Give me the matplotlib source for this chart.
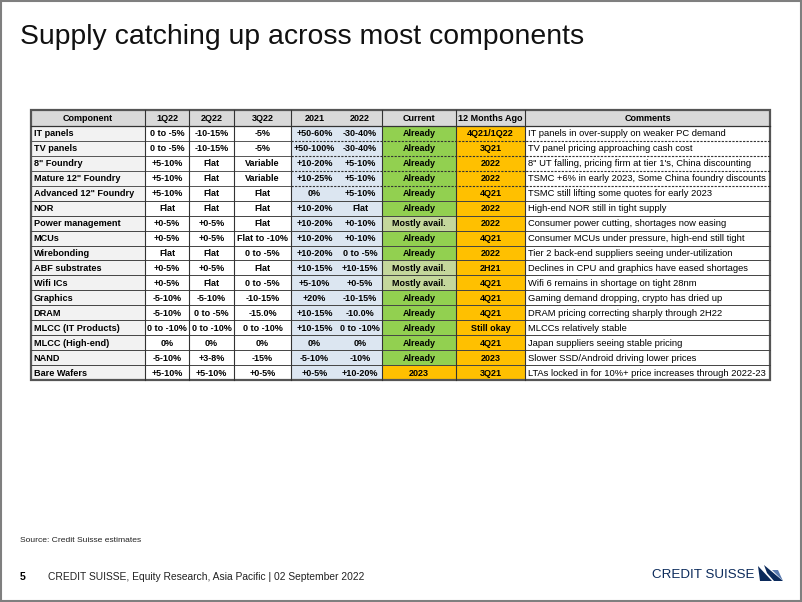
import matplotlib
matplotlib.use("Agg")
import matplotlib.pyplot as plt
from matplotlib.patches import Rectangle, Polygon

# ---------------- data ----------------
headers = ["Component", "1Q22", "2Q22", "3Q22", "2021", "2022", "Current", "12 Months Ago", "Comments"]
components = ["IT panels", "TV panels", "8\" Foundry", "Mature 12\" Foundry", "Advanced 12\" Foundry",
              "NOR", "Power management", "MCUs", "Wirebonding", "ABF substrates", "Wifi ICs",
              "Graphics", "DRAM", "MLCC (IT Products)", "MLCC (High-end)", "NAND", "Bare Wafers"]
q1_22 = ["0 to -5%", "0 to -5%", "+5-10%", "+5-10%", "+5-10%", "Flat", "+0-5%", "+0-5%", "Flat",
         "+0-5%", "+0-5%", "-5-10%", "-5-10%", "0 to -10%", "0%", "-5-10%", "+5-10%"]
q2_22 = ["-10-15%", "-10-15%", "Flat", "Flat", "Flat", "Flat", "+0-5%", "+0-5%", "Flat",
         "+0-5%", "Flat", "-5-10%", "0 to -5%", "0 to -10%", "0%", "+3-8%", "+5-10%"]
q3_22 = ["-5%", "-5%", "Variable", "Variable", "Flat", "Flat", "Flat", "Flat to -10%", "0 to -5%",
         "Flat", "0 to -5%", "-10-15%", "-15.0%", "0 to -10%", "0%", "-15%", "+0-5%"]
y2021 = ["+50-60%", "+50-100%", "+10-20%", "+10-25%", "0%", "+10-20%", "+10-20%", "+10-20%", "+10-20%",
         "+10-15%", "+5-10%", "+20%", "+10-15%", "+10-15%", "0%", "-5-10%", "+0-5%"]
y2022 = ["-30-40%", "-30-40%", "+5-10%", "+5-10%", "+5-10%", "Flat", "+0-10%", "+0-10%", "0 to -5%",
         "+10-15%", "+0-5%", "-10-15%", "-10.0%", "0 to -10%", "0%", "-10%", "+10-20%"]
current = ["Already", "Already", "Already", "Already", "Already", "Already", "Mostly avail.", "Already",
           "Already", "Mostly avail.", "Mostly avail.", "Already", "Already", "Already", "Already",
           "Already", "2023"]
months_ago = ["4Q21/1Q22", "3Q21", "2022", "2022", "4Q21", "2022", "2022", "4Q21", "2022", "2H21",
              "4Q21", "4Q21", "4Q21", "Still okay", "4Q21", "2023", "3Q21"]
comments = ["IT panels in over-supply on weaker PC demand",
            "TV panel pricing approaching cash cost",
            "8\" UT falling, pricing firm at tier 1's, China discounting",
            "TSMC +6% in early 2023, Some China foundry discounts",
            "TSMC still lifting some quotes for early 2023",
            "High-end NOR still in tight supply",
            "Consumer power cutting, shortages now easing",
            "Consumer MCUs under pressure, high-end still tight",
            "Tier 2 back-end suppliers seeing under-utilization",
            "Declines in CPU and graphics have eased shortages",
            "Wifi 6 remains in shortage on tight 28nm",
            "Gaming demand dropping, crypto has dried up",
            "DRAM pricing correcting sharply through 2H22",
            "MLCCs relatively stable",
            "Japan suppliers seeing stable pricing",
            "Slower SSD/Android driving lower prices",
            "LTAs locked in for 10%+ price increases through 2022-23"]

title = "Supply catching up across most components"
source = "Source: Credit Suisse estimates"
footer = "CREDIT SUISSE, Equity Research, Asia Pacific | 02 September 2022"

# ---------------- layout ----------------
W, H = 802, 602
col_edges = [31, 145, 189, 234, 291, 338, 382, 456, 525, 770]
top, head_h, row_h = 110, 16, 14.94
dashed_after = 4  # first separators drawn dashed

GREEN, LIGHTGREEN, ORANGE = "#92d050", "#c4d79b", "#ffc000"
BLUE, HEAD, COMPBG = "#dce6f1", "#d9d9d9", "#f2f2f2"

fig = plt.figure(figsize=(W / 100, H / 100), dpi=100)
ax = fig.add_axes([0, 0, 1, 1])
ax.set_xlim(0, W)
ax.set_ylim(H, 0)
ax.axis("off")

FONT = "Liberation Sans"
fs_b = 6.5
fs_comp = 6.6
fs_c = 6.75

columns = [components, q1_22, q2_22, q3_22, y2021, y2022, current, months_ago, comments]
nrows = len(components)


def cell_color(c, r):
    if c == 0:
        return COMPBG
    if c in (4, 5):
        return BLUE
    if c == 6:
        v = current[r]
        if v == "Already":
            return GREEN
        if v.startswith("Mostly"):
            return LIGHTGREEN
        return ORANGE
    if c == 7:
        return ORANGE
    return "white"


# header
for c, h in enumerate(headers):
    x0, x1 = col_edges[c], col_edges[c + 1]
    ax.add_patch(Rectangle((x0, top), x1 - x0, head_h, facecolor=HEAD, edgecolor="none"))
    ax.text((x0 + x1) / 2, top + head_h / 2 + 0.5, h, ha="center", va="center",
            fontsize=fs_b, fontweight="bold", family=FONT, color="black")

# body
for r in range(nrows):
    y0 = top + head_h + r * row_h
    for c, col in enumerate(columns):
        x0, x1 = col_edges[c], col_edges[c + 1]
        ax.add_patch(Rectangle((x0, y0), x1 - x0, row_h, facecolor=cell_color(c, r), edgecolor="none"))
        if c == 0:
            ax.text(x0 + 2.5, y0 + row_h / 2 + 0.5, col[r], ha="left", va="center",
                    fontsize=fs_comp, fontweight="bold", family=FONT)
        elif c == 8:
            ax.text(x0 + 2.5, y0 + row_h / 2 + 0.5, col[r], ha="left", va="center",
                    fontsize=fs_c, family=FONT)
        else:
            ax.text((x0 + x1) / 2, y0 + row_h / 2 + 0.5, col[r], ha="center", va="center",
                    fontsize=fs_b, fontweight="bold", family=FONT)

bottom = top + head_h + nrows * row_h

# horizontal lines
ax.plot([col_edges[0], col_edges[-1]], [top + head_h] * 2, color="#333333", lw=0.9)
for r in range(1, nrows):
    y = top + head_h + r * row_h
    if r <= dashed_after:
        ax.plot([col_edges[0], col_edges[4]], [y, y], color="#555555", lw=0.7)
        ax.plot([col_edges[4], col_edges[-1]], [y, y], color="#333333", lw=0.8,
                linestyle=(0, (2, 1.2)))
    else:
        ax.plot([col_edges[0], col_edges[-1]], [y, y], color="#444444", lw=0.7)

# vertical lines
for i, x in enumerate(col_edges[1:-1], start=1):
    if i == 5:
        continue
    ax.plot([x, x], [top, bottom], color="#333333", lw=0.8)

# outer border
ax.add_patch(Rectangle((col_edges[0], top), col_edges[-1] - col_edges[0], bottom - top,
                       facecolor="none", edgecolor="#555555", lw=1.6))

# title and footer texts
ax.text(20, 37, title, ha="left", va="center", fontsize=20.4, family=FONT, color="#111111")
ax.text(20, 541, source, ha="left", va="center", fontsize=6.1, family=FONT, color="#222222")
ax.text(20, 577, "5", ha="left", va="center", fontsize=7.6, fontweight="bold", family=FONT)
ax.text(48, 577, footer, ha="left", va="center", fontsize=7.35, family=FONT, color="#222222")

# logo
NAVY = "#0b2a5b"
ax.text(754, 575, "CREDIT SUISSE", ha="right", va="center", fontsize=9.6, family=FONT, color=NAVY)
ax.add_patch(Polygon([[758, 566], [772, 581], [760, 581]], closed=True, facecolor=NAVY, edgecolor="none"))
ax.add_patch(Polygon([[764, 565], [783, 581], [774, 581], [767, 573]], closed=True,
                     facecolor=NAVY, edgecolor="none"))
ax.add_patch(Polygon([[772, 570], [778, 570], [783, 581]], closed=True, facecolor="#5a7bb0", edgecolor="none"))

# figure frame
ax.add_patch(Rectangle((0.5, 0.5), W - 1.5, H - 1.5, facecolor="none", edgecolor="#7f7f7f", lw=1.5))

fig.savefig("out.png", dpi=100)
